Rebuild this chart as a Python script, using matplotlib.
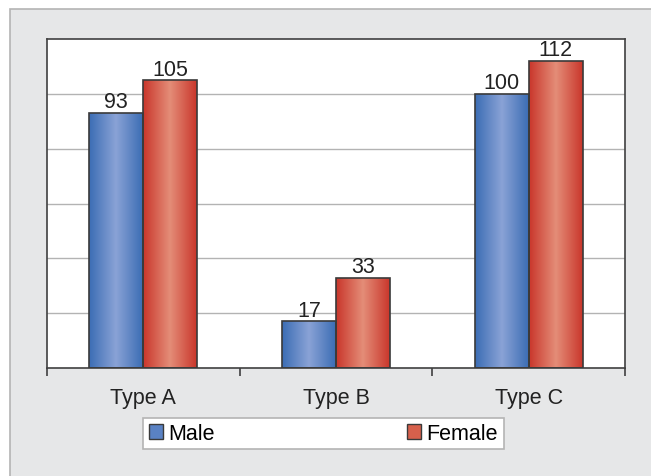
import numpy as np
import matplotlib.pyplot as plt
from matplotlib.patches import Rectangle
from matplotlib.colors import LinearSegmentedColormap

plt.rcParams['font.family'] = ['Liberation Sans', 'DejaVu Sans']

categories = ["Type A", "Type B", "Type C"]
male = [93, 17, 100]
female = [105, 33, 112]

fig = plt.figure(figsize=(6.51, 4.77), dpi=100)
fig.patch.set_facecolor("white")
# gray panel behind the chart
fig.patches.append(Rectangle((10/651, -0.01), 1.0, 1 - 10/477 + 0.01, transform=fig.transFigure,
                             facecolor="#e6e7e8", edgecolor="#b4b4b4", lw=1.2, zorder=-10))

ax = fig.add_axes([47/651, 1 - 369/477, 578/651, 329/477])
ax.set_facecolor("white")

for y in range(20, 120, 20):
    ax.axhline(y, color="#b3b3b3", lw=1, zorder=0)

blue = LinearSegmentedColormap.from_list("b", ["#3b6db4", "#8aa3d6", "#3b6db4"])
red = LinearSegmentedColormap.from_list("r", ["#c9362b", "#e48d78", "#c9362b"])
grad = np.linspace(0, 1, 256).reshape(1, -1)

w = 0.28
x = np.arange(len(categories))
fs = 15.5

def gradient_bars(xs, vals, cmap, label):
    bars = ax.bar(xs, vals, width=w, facecolor="none", edgecolor="#3a3a3a", lw=1.2, zorder=3, label=label)
    for b in bars:
        im = ax.imshow(grad, cmap=cmap, aspect="auto", zorder=2,
                       extent=[b.get_x(), b.get_x() + b.get_width(), 0, b.get_height()])
        im.set_clip_path(b)
    for xi, v in zip(xs, vals):
        ax.text(xi, v + 0.2, str(v), ha="center", va="bottom", fontsize=fs, color="#222222")
    return bars

gradient_bars(x - w/2, male, blue, "Male")
gradient_bars(x + w/2, female, red, "Female")
ax.set_xlim(-0.5, 2.5)
ax.set_ylim(0, 120)

for s in ax.spines.values():
    s.set_color("#404040")
    s.set_linewidth(1.2)

ax.set_yticks([])
ax.set_xticks([-0.5, 0.5, 1.5, 2.5])
ax.set_xticklabels([])
ax.tick_params(axis="x", which="major", direction="out", length=6, width=1.2, color="#404040")
ax.set_xticks(x, minor=True)
ax.set_xticklabels(categories, minor=True, fontsize=fs, color="#222222")
ax.tick_params(axis="x", which="minor", length=0, pad=14)

h1 = Rectangle((0, 0), 1, 1, facecolor="#5a82c4", edgecolor="#3a3a3a")
h2 = Rectangle((0, 0), 1, 1, facecolor="#d7604c", edgecolor="#3a3a3a")
leg = fig.legend([h1, h2], ["Male", "Female"], loc="center", bbox_to_anchor=(323.5/651, 1 - 434.5/477),
                 ncol=2, fontsize=fs, frameon=True, fancybox=False, edgecolor="#b4b4b4",
                 facecolor="white", framealpha=1,
                 handlelength=0.65, handleheight=0.65, handletextpad=0.25, columnspacing=8.95,
                 borderpad=0.25, borderaxespad=0)
leg.get_frame().set_linewidth(1.2)

plt.savefig("out.png", dpi=100)
